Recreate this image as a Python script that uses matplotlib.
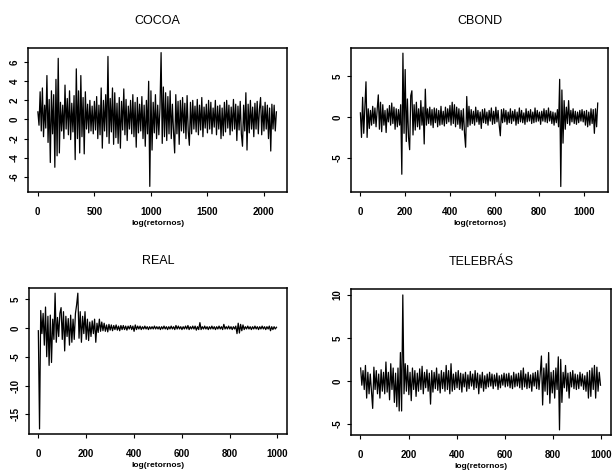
import numpy as np
import matplotlib
matplotlib.use("Agg")
import matplotlib.pyplot as plt

plt.rcParams['font.family'] = ['Liberation Sans', 'DejaVu Sans']

cocoa_step = 10
cocoa = [
    0.8, -0.6, 2.9, -1.2, 3.3, -1.8, 1.5, -0.9, 4.6, -2.4,
    2.1, -4.5, 3.0, -1.5, 2.6, -5.0, 4.2, -3.8, 6.4, -3.5,
    1.8, -1.2, 1.5, -2.0, 3.6, -1.0, 2.2, -1.6, 3.0, -2.1,
    1.7, -1.3, 2.5, -4.2, 5.3, -2.0, 3.0, -3.5, 4.6, -1.8,
    2.3, -3.6, 2.9, -1.0, 1.6, -1.4, 2.0, -1.2, 1.4, -1.5,
    1.9, -1.1, 2.4, -2.0, 1.5, -1.6, 3.3, -3.0, 2.0, -1.2,
    2.6, -1.8, 6.6, -2.5, 2.2, -1.3, 3.3, -2.6, 2.8, -1.9,
    1.7, -2.5, 2.3, -3.0, 1.9, -1.1, 3.2, -1.6, 2.1, -2.2,
    1.4, -1.0, 2.0, -1.5, 2.6, -1.8, 1.8, -2.9, 2.3, -1.4,
    1.6, -1.2, 2.4, -2.0, 1.5, -2.8, 2.0, -1.5, 4.0, -7.0,
    3.0, -3.2, 1.8, -1.4, 2.6, -2.0, 1.5, -1.6, 1.2, 7.0,
    -2.5, 3.4, -1.8, 2.8, -2.2, 2.4, -1.5, 3.0, -2.0, 1.6,
    -1.3, -3.5, 2.6, -1.5, 1.9, -2.6, 2.0, -1.2, 2.3, -1.4,
    1.7, -2.0, 2.5, -1.2, -2.7, 1.8, -1.5, 2.0, -1.0, 1.4,
    -1.3, 2.1, -1.6, 1.5, -1.1, 2.3, -1.8, 1.3, -0.9, 1.6,
    -1.4, 2.0, -1.0, 1.8, -1.5, 1.2, -0.8, 2.0, -1.6, 1.4,
    -1.0, 1.5, -2.0, 1.2, -1.7, 1.8, -1.3, 2.0, -0.9, 1.5,
    -1.6, 1.3, -1.2, 2.1, -1.0, 1.6, -2.2, 1.4, -1.1, 1.9,
    -1.5, -2.8, 1.5, -1.2, 2.8, -3.2, 1.6, -1.4, 2.0, -1.0,
    1.3, -1.8, 1.7, -1.0, 1.9, -1.5, 1.1, 2.3, -1.6, 1.4,
    -1.2, 1.8, -1.0, 1.5, -2.0, 1.2, -3.3, 1.6, -1.0, 1.5,
    -1.2, 0.8,
]

cbond_step = 5
cbond = [
    0.5, -2.5, 2.4, -2.0, 1.2, 4.3, -2.5, 1.0, -1.4, 0.8,
    -1.0, 1.3, -0.8, 1.1, -1.2, 0.9, 2.7, -1.5, 1.8, -1.8,
    1.5, -1.0, 0.8, -1.9, 1.0, -0.6, 1.4, -1.0, 1.7, -0.8,
    1.2, -1.5, 1.0, -1.2, 0.9, -1.0, 1.5, -7.0, 7.8, -2.0,
    5.8, -3.0, 2.2, -2.5, -4.0, 2.6, 3.2, -2.2, 1.5, -1.6,
    1.8, -1.2, 1.0, -1.5, 2.0, -1.0, 1.2, -3.3, 3.4, -1.0,
    1.0, -0.8, 1.2, -1.0, 0.9, -1.3, 1.1, -0.7, 1.0, -1.2,
    0.8, -1.0, 1.3, -0.9, 0.7, -1.1, 1.2, -0.8, 1.0, -0.6,
    1.4, -1.0, 1.8, -0.8, 1.5, -1.2, 1.2, -0.9, 1.0, -1.4,
    0.8, -1.6, 1.0, -2.0, -3.7, 2.5, -1.2, 1.3, -1.0, 0.9,
    -0.8, 0.7, -1.0, 1.2, -0.6, 0.8, -0.9, 0.6, -1.4, 0.9,
    -0.7, 1.0, -0.8, 0.6, -1.0, 0.8, -0.5, 1.1, -0.9, 0.7,
    -0.8, 1.2, -0.6, 0.8, -1.0, -2.3, 0.9, -0.7, 1.0, -0.6,
    0.8, -0.9, 0.6, -0.7, 1.0, -0.8, 0.7, -0.5, 0.9, -1.0,
    0.6, -0.8, 1.1, -0.6, 0.8, -0.7, 0.5, -0.9, 1.0, -0.6,
    0.7, -0.5, 0.9, -0.8, 0.6, -0.7, 1.1, -0.6, 0.8, -0.5,
    0.6, -0.9, 0.7, -0.5, 1.0, -0.6, 0.8, -0.7, 1.1, -0.5,
    0.7, -0.8, 0.6, -1.0, 0.5, -0.7, 0.9, -1.2, 4.6, -8.5,
    3.3, -3.2, 2.0, -1.5, 1.2, -0.8, 2.0, -1.0, 0.8, -0.6,
    1.0, -0.8, 0.7, -0.9, 0.6, -0.7, 0.8, -0.5, 0.9, -0.6,
    0.7, -1.0, 0.8, -1.2, 0.6, -1.0, 1.0, -0.8, 0.9, -2.0,
    1.0, -1.2, 1.7,
]

real_step = 5
real = [
    -0.5, -17.5, 3.0, -1.0, 2.5, -3.0, 3.6, -5.0, 2.0, -6.5,
    2.2, -6.0, 1.5, -2.0, 6.0, -2.5, 1.8, -1.5, 2.5, 3.5,
    -2.0, 2.8, -4.0, 2.0, -1.5, 1.6, -3.0, 2.2, -2.5, 1.5,
    -2.0, 2.5, 4.0, 6.0, -1.8, 2.8, -2.5, 2.0, -1.0, 2.8,
    -2.0, 1.5, -2.2, 1.0, -1.5, 1.2, -1.0, 1.5, -2.5, 0.8,
    -0.8, 1.5, -0.6, 1.0, -0.5, 0.8, -0.6, 0.5, -0.7, 0.6,
    -0.4, 0.5, -0.5, 0.4, -0.3, 0.5, -0.4, 0.3, -0.5, 0.4,
    -0.3, 0.4, -0.3, 0.3, -0.4, 0.3, -0.2, 0.4, -0.3, 0.3,
    -0.6, 0.5, -0.3, 0.3, -0.2, 0.3, -0.3, 0.2, -0.2, 0.3,
    -0.2, 0.2, -0.3, 0.2, -0.2, 0.2, -0.2, 0.3, -0.2, 0.2,
    -0.2, 0.2, -0.3, 0.2, -0.2, 0.3, -0.2, 0.2, -0.3, 0.2,
    -0.2, 0.3, -0.2, 0.2, -0.3, 0.4, -0.2, 0.3, -0.2, 0.2,
    -0.3, 0.2, -0.2, 0.3, -0.2, 0.4, -0.3, 0.2, -0.2, 0.3,
    -0.2, 0.3, -0.4, 0.2, -0.3, 0.9, -0.3, 0.2, -0.2, 0.3,
    -0.2, 0.2, -0.3, 0.2, -0.2, 0.3, -0.2, 0.2, -0.3, 0.2,
    -0.2, 0.3, -0.2, 0.2, -0.3, 0.6, -0.2, 0.2, -0.2, 0.3,
    -0.2, 0.2, -0.3, 0.2, -0.2, 0.3, -1.0, 0.8, -0.9, 0.6,
    -0.5, 0.5, -0.3, 0.2, -0.2, 0.3, -0.2, 0.2, -0.3, 0.2,
    -0.2, 0.3, -0.2, 0.2, -0.3, 0.2, -0.2, 0.3, -0.2, 0.2,
    -0.3, 0.2, -0.2, 0.3, -0.5, 0.2, -0.3, 0.2, -0.2, 0.1,
]

telebras_step = 5
telebras = [
    1.5, -0.5, 1.2, -1.0, 1.8, -2.0, 1.0, -1.5, 0.8, -1.2,
    -3.2, 1.6, -1.0, 1.2, -1.5, 0.8, -2.0, 1.3, -1.2, 1.0,
    -1.5, 2.2, -1.3, 1.0, -2.2, 2.0, -1.0, 1.5, -2.5, 0.9,
    -3.0, 1.5, -3.5, 3.3, -3.5, 10.0, -1.5, 2.0, -1.2, 1.8,
    -1.6, 1.0, -2.3, 1.5, -1.0, 1.2, -1.8, 0.9, -1.2, 1.4,
    -1.0, 1.7, -1.5, 1.0, -0.8, 1.3, -1.2, 0.9, -2.7, 1.2,
    -1.3, 1.0, -0.9, 1.5, -1.1, 0.8, -1.4, 1.2, -0.9, 1.0,
    -1.2, 1.8, -1.0, 1.2, -1.5, 2.0, -1.2, 0.8, -1.0, 1.0,
    -0.8, 1.2, -1.0, 0.9, -1.3, 0.8, -0.7, 1.0, -1.2, 0.7,
    -0.9, 1.1, -0.6, 0.8, -1.0, 1.2, -0.8, 0.9, -1.5, 0.7,
    -0.8, 1.0, -1.2, 0.6, -0.9, 0.8, -0.7, 1.0, -0.6, 0.8,
    -0.9, 0.7, -0.6, 0.9, -1.0, 0.6, -0.8, 0.7, -0.5, 0.9,
    -0.7, 0.8, -0.6, 0.9, -0.8, 0.6, -0.9, 1.0, -0.7, 0.8,
    -0.6, 0.9, -0.8, 1.2, -1.0, 1.5, -0.7, 0.8, -0.9, 1.0,
    -0.8, 0.7, -1.2, 0.9, -0.6, 1.0, -0.9, 1.2, -1.0, 0.8,
    2.9, -2.8, 1.5, -1.2, 2.0, -1.6, 3.3, -2.6, 1.0, -1.4,
    1.2, -2.0, 1.5, -1.0, 2.8, -5.7, 2.5, -2.5, 1.0, -0.8,
    1.8, -1.2, 0.9, -2.0, 1.0, -0.7, 1.2, -0.9, 0.8, -1.0,
    0.7, -0.9, 1.0, -0.6, 0.8, -1.0, 0.6, -1.2, 1.0, -2.0,
    1.2, -1.8, 1.5, -1.0, 1.8, -2.0, 1.6, -1.2, 1.0, -0.5,
]

titles = ["COCOA", "CBOND", "REAL", "TELEBRÁS"]
xlabel = "log(retornos)"

panels = [
    # data, step, axes rect, xlim, ylim, xticks, yticks
    (cocoa, cocoa_step, [0.046, 0.597, 0.423, 0.3025], (-85, 2205), (-7.57, 7.5),
     [0, 500, 1000, 1500, 2000], [-6, -4, -2, 0, 2, 4, 6]),
    (cbond, cbond_step, [0.5735, 0.597, 0.42, 0.3025], (-41, 1107), (-9.15, 8.45),
     [0, 200, 400, 600, 800, 1000], [-5, 0, 5]),
    (real, real_step, [0.047, 0.088, 0.422, 0.307], (-39, 1040), (-18.4, 6.9),
     [0, 200, 400, 600, 800, 1000], [-15, -10, -5, 0, 5]),
    (telebras, telebras_step, [0.5735, 0.086, 0.425, 0.307], (-39, 1040), (-6.3, 10.7),
     [0, 200, 400, 600, 800, 1000], [-5, 0, 5, 10]),
]

fig = plt.figure(figsize=(6.12, 4.76), dpi=100)

for (vals, step, rect, xl, yl, xt, yt), title in zip(panels, titles):
    ax = fig.add_axes(rect)
    x = np.arange(len(vals)) * step + 1
    ax.plot(x, vals, color="black", lw=0.9)
    ax.set_xlim(*xl)
    ax.set_ylim(*yl)
    ax.set_xticks(xt)
    ax.set_yticks(yt)
    ax.set_xticklabels([str(t) for t in xt], fontsize=7, fontweight="bold")
    ax.set_yticklabels([str(t) for t in yt], fontsize=7, fontweight="bold",
                       rotation=90, va="center")
    ax.tick_params(axis="x", direction="out", length=3, width=0.8, pad=8)
    ax.tick_params(axis="y", direction="out", length=3, width=0.8, pad=3)
    for s in ax.spines.values():
        s.set_linewidth(1.1)
    ax.set_title(title, fontsize=9, pad=17)
    ax.set_xlabel(xlabel, fontsize=6, fontweight="bold", labelpad=2)

fig.savefig("out.png", dpi=100)
